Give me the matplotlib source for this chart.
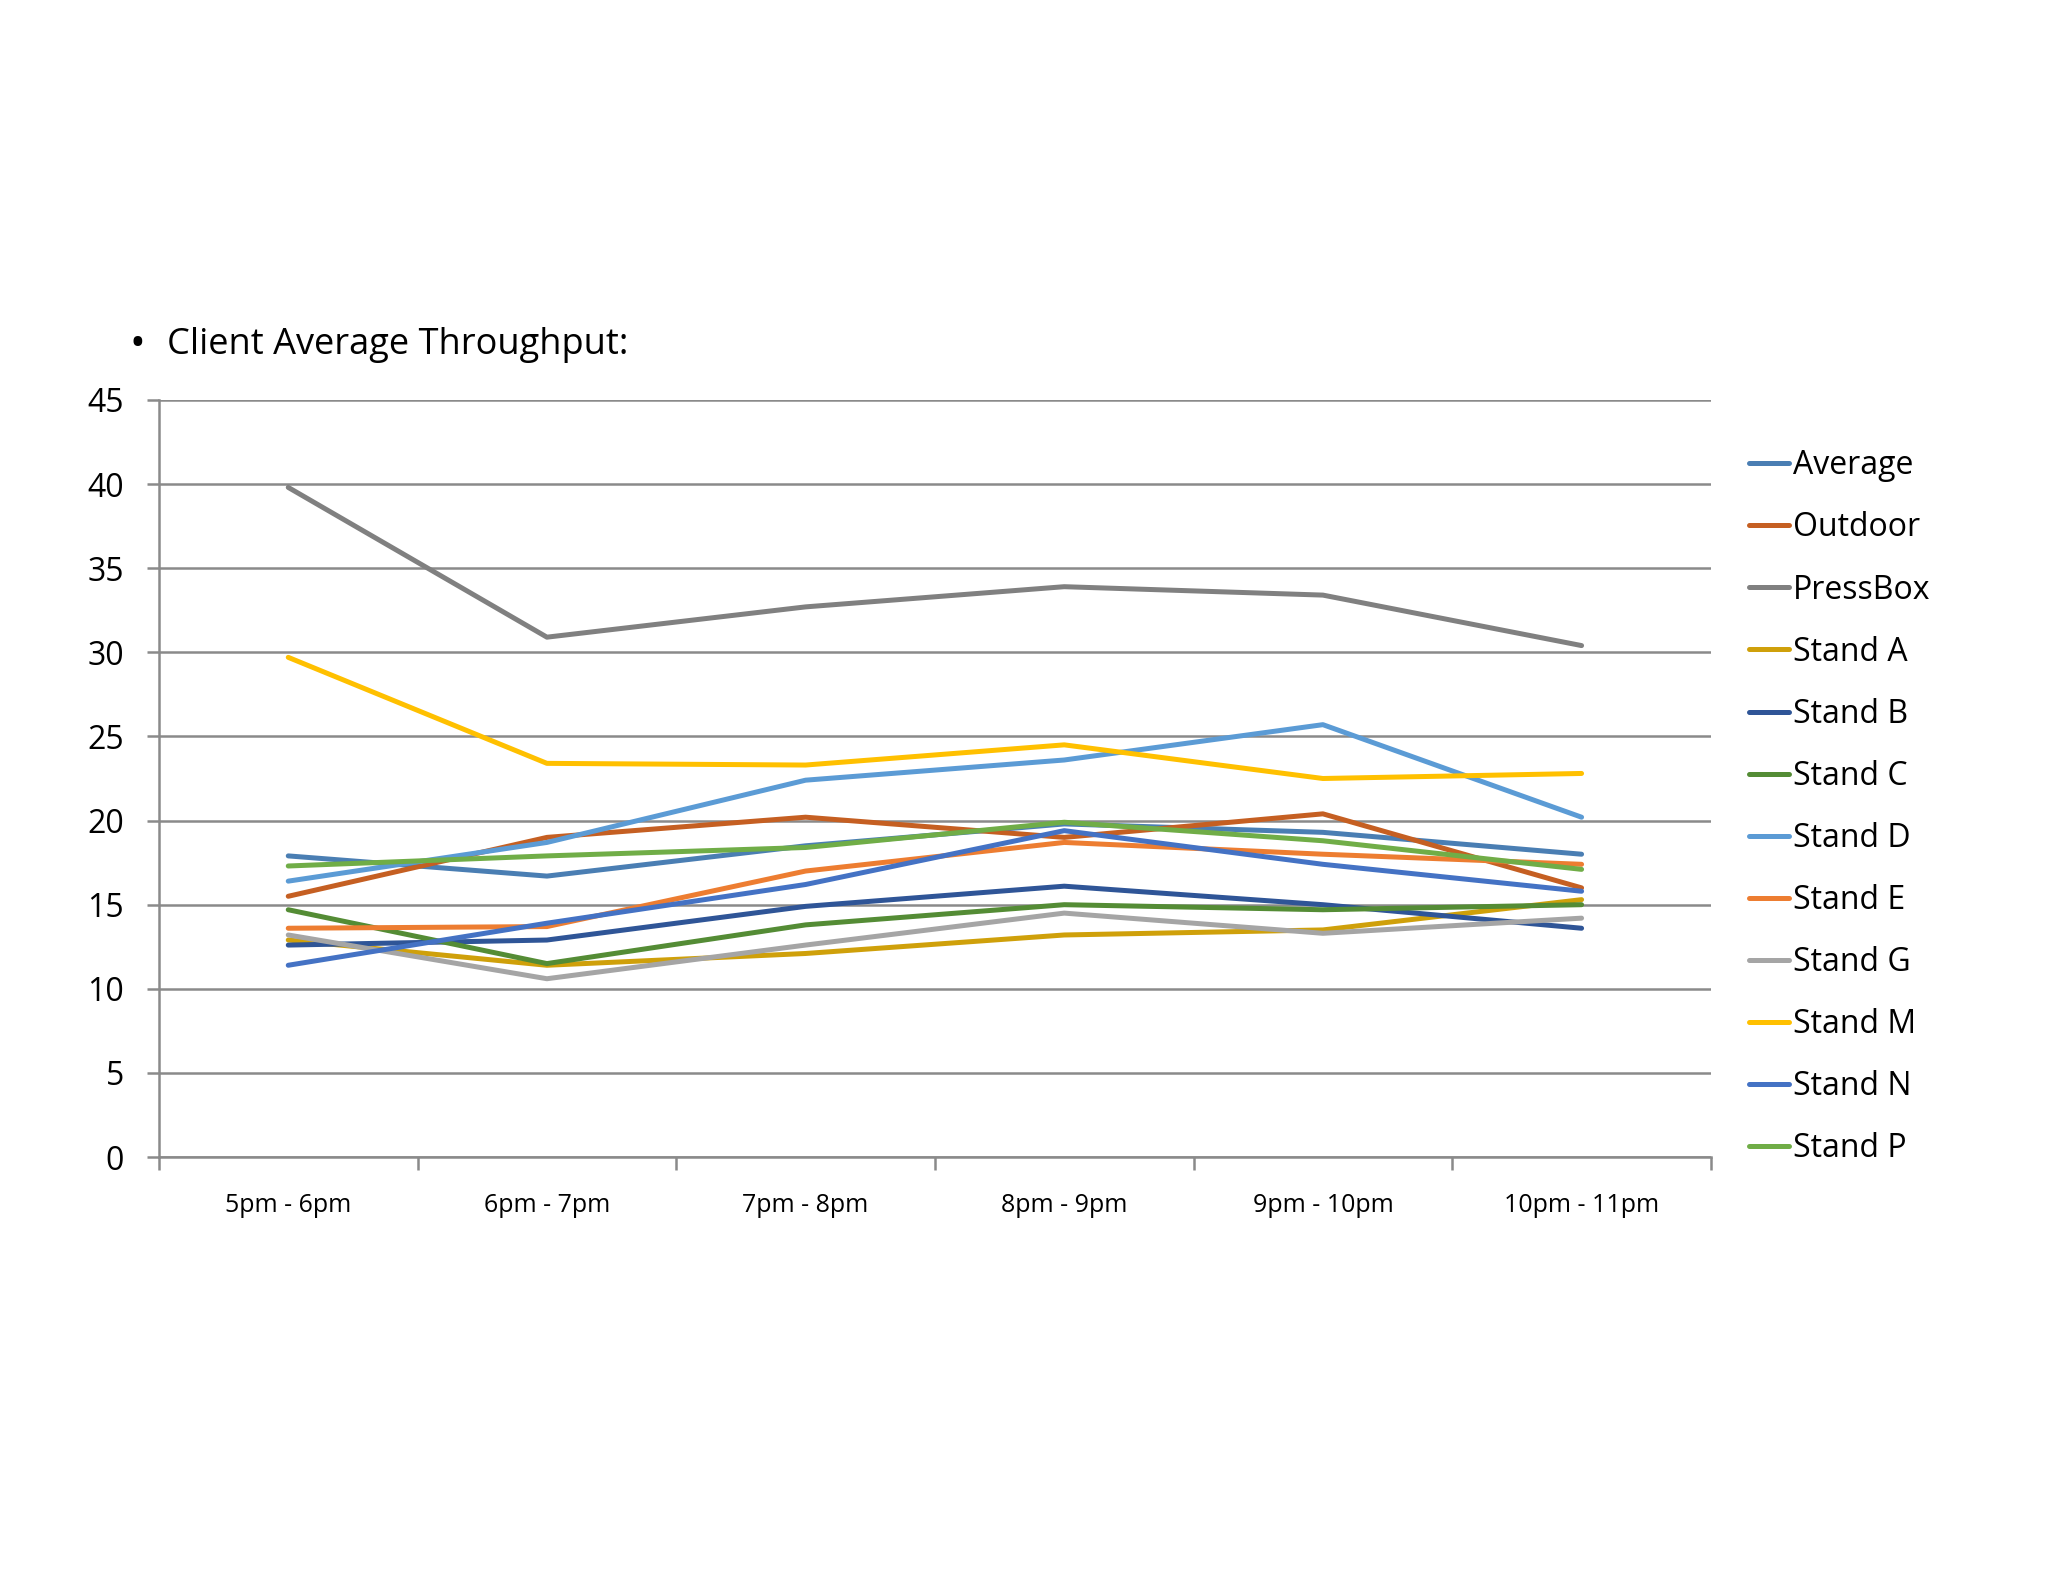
import matplotlib
matplotlib.use("Agg")
import matplotlib.pyplot as plt
import numpy as np

categories = ["5pm - 6pm", "6pm - 7pm", "7pm - 8pm", "8pm - 9pm", "9pm - 10pm", "10pm - 11pm"]

average  = [17.9, 16.7, 18.5, 19.8, 19.3, 18.0]
outdoor  = [15.5, 19.0, 20.2, 19.0, 20.4, 16.0]
pressbox = [39.8, 30.9, 32.7, 33.9, 33.4, 30.4]
stand_a  = [12.9, 11.4, 12.1, 13.2, 13.5, 15.3]
stand_b  = [12.6, 12.9, 14.9, 16.1, 15.0, 13.6]
stand_c  = [14.7, 11.5, 13.8, 15.0, 14.7, 15.0]
stand_d  = [16.4, 18.7, 22.4, 23.6, 25.7, 20.2]
stand_e  = [13.6, 13.7, 17.0, 18.7, 18.0, 17.4]
stand_g  = [13.2, 10.6, 12.6, 14.5, 13.3, 14.2]
stand_m  = [29.7, 23.4, 23.3, 24.5, 22.5, 22.8]
stand_n  = [11.4, 13.9, 16.2, 19.4, 17.4, 15.8]
stand_p  = [17.3, 17.9, 18.4, 19.9, 18.8, 17.1]

series_names = ["Average", "Outdoor", "PressBox", "Stand A", "Stand B", "Stand C",
                "Stand D", "Stand E", "Stand G", "Stand M", "Stand N", "Stand P"]
series_values = [average, outdoor, pressbox, stand_a, stand_b, stand_c,
                 stand_d, stand_e, stand_g, stand_m, stand_n, stand_p]
series_colors = ["#4A7EB3", "#C55F22", "#808080", "#CFA00A", "#2F5597", "#548C35",
                 "#5B9BD5", "#ED7D31", "#A5A5A5", "#FFC000", "#4472C4", "#70AD47"]

plt.rcParams['font.family'] = ['Open Sans', 'DejaVu Sans']

fig = plt.figure(figsize=(20.48, 15.82), dpi=100)
fig.patch.set_facecolor("white")
ax = fig.add_axes([0.0776, 0.2686, 0.8354 - 0.0776, 0.7472 - 0.2686])

x = np.arange(len(categories))
for name, vals, col in zip(series_names, series_values, series_colors):
    ax.plot(x, vals, color=col, lw=3.6, label=name, solid_capstyle='round', solid_joinstyle='round')

grid_col = "#8A8A8A"
ax.set_ylim(0, 45)
ax.set_xlim(-0.5, len(categories) - 0.5)
ax.set_yticks(np.arange(0, 46, 5))
ax.yaxis.grid(True, color=grid_col, lw=1.8)
ax.set_axisbelow(True)
for s in ["top", "right"]:
    ax.spines[s].set_visible(False)
for s in ["left", "bottom"]:
    ax.spines[s].set_color(grid_col)
    ax.spines[s].set_linewidth(1.8)

ax.set_xticks(x)
ax.set_xticklabels(categories, fontsize=18)
ax.tick_params(axis='x', which='major', length=0, pad=26)
ax.set_xticks(np.arange(-0.5, len(categories), 1.0), minor=True)
ax.tick_params(axis='x', which='minor', length=9, width=1.8, color=grid_col, direction='out')
ax.tick_params(axis='y', length=9, width=1.8, color=grid_col, labelsize=23, pad=16)

fig.text(0.063, 0.782, "\u2022", fontsize=30, va='center', ha='left')
fig.text(0.0815, 0.782, "Client Average Throughput:", fontsize=26, va='center', ha='left')

leg = ax.legend(loc='upper left', bbox_to_anchor=(0.848, 0.724), bbox_transform=fig.transFigure,
                frameon=False, fontsize=23, handlelength=1.25, handletextpad=0.1,
                labelspacing=0.91, borderaxespad=0)

fig.savefig("out.png", dpi=100, facecolor="white")
